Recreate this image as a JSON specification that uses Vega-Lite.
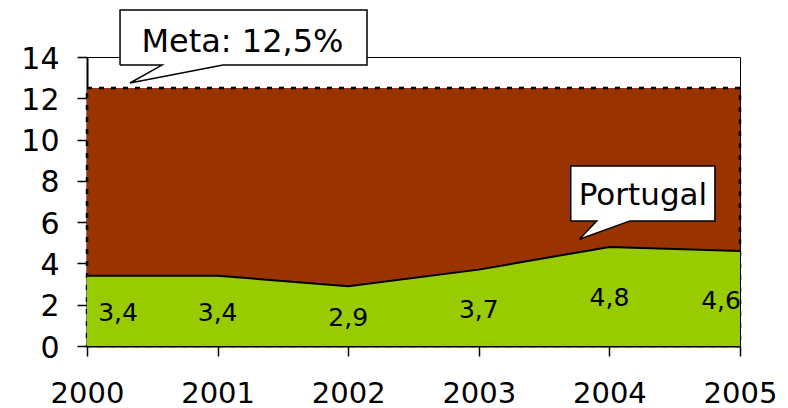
{
  "$schema": "https://vega.github.io/schema/vega-lite/v6.json",
  "width": 653,
  "height": 289,
  "autosize": "none",
  "padding": {"left": 87, "top": 57, "right": 48, "bottom": 62},
  "config": {
    "font": "DejaVu Sans",
    "view": {"stroke": "#000000", "strokeWidth": 1},
    "axis": {"grid": false, "domainColor": "#000000", "domainWidth": 2, "tickColor": "#000000", "tickWidth": 1.5, "tickSize": 10, "labelColor": "#000000", "labelFontSize": 30, "labelFont": "DejaVu Sans", "labelFlush": false, "labelOverlap": false, "labelBound": false, "title": null}
  },
  "datasets": {
    "portugal": [
      {"year": 2000, "v": 3.4, "label": "3,4"},
      {"year": 2001, "v": 3.4, "label": "3,4"},
      {"year": 2002, "v": 2.9, "label": "2,9"},
      {"year": 2003, "v": 3.7, "label": "3,7"},
      {"year": 2004, "v": 4.8, "label": "4,8"},
      {"year": 2005, "v": 4.6, "label": "4,6"}
    ],
    "meta": [{"x1": 2000, "x2": 2005, "lo": 0, "hi": 12.5}],
    "callouts": [
      {"id": "m", "o": 1, "x": 2000.253, "y": 13.61},
      {"id": "m", "o": 2, "x": 2000.574, "y": 13.61},
      {"id": "m", "o": 3, "x": 2000.329, "y": 12.74},
      {"id": "m", "o": 4, "x": 2001.041, "y": 13.61},
      {"id": "m", "o": 5, "x": 2002.144, "y": 13.61},
      {"id": "m", "o": 6, "x": 2002.144, "y": 16.28},
      {"id": "m", "o": 7, "x": 2000.253, "y": 16.28},
      {"id": "m", "o": 8, "x": 2000.253, "y": 13.61},
      {"id": "p", "o": 1, "x": 2003.704, "y": 6.06},
      {"id": "p", "o": 2, "x": 2003.903, "y": 6.06},
      {"id": "p", "o": 3, "x": 2003.770, "y": 5.17},
      {"id": "p", "o": 4, "x": 2004.158, "y": 6.06},
      {"id": "p", "o": 5, "x": 2004.808, "y": 6.06},
      {"id": "p", "o": 6, "x": 2004.808, "y": 8.72},
      {"id": "p", "o": 7, "x": 2003.704, "y": 8.72},
      {"id": "p", "o": 8, "x": 2003.704, "y": 6.06}
    ],
    "callout_text": [
      {"x": 2001.19, "y": 14.26, "text": "Meta: 12,5%", "size": 32},
      {"x": 2004.257, "y": 6.83, "text": "Portugal", "size": 31}
    ]
  },
  "resolve": {"scale": {"y": "independent"}},
  "layer": [
    {
      "layer": [
        {
          "data": {"name": "meta"},
          "mark": {"type": "rect", "fill": "#993300", "stroke": "#000000", "strokeWidth": 2.5, "strokeDash": [5, 7]},
          "encoding": {
            "x": {"field": "x1", "type": "quantitative", "scale": {"domain": [2000, 2005], "nice": false, "zero": false},
                  "axis": {"values": [2000, 2001, 2002, 2003, 2004, 2005], "format": "d", "labelPadding": 23, "labelFontSize": 29, "orient": "bottom"}},
            "x2": {"field": "x2"},
            "y": {"field": "lo", "type": "quantitative", "scale": {"domain": [0, 14], "nice": false},
                  "axis": {"values": [0, 2, 4, 6, 8, 10, 12, 14], "labelPadding": 18, "labelOffset": 2, "orient": "left"}},
            "y2": {"field": "hi"}
          }
        },
        {
          "data": {"name": "portugal"},
          "mark": {"type": "area", "fill": "#99CC00"},
          "encoding": {
            "x": {"field": "year", "type": "quantitative"},
            "y": {"field": "v", "type": "quantitative"}
          }
        },
        {
          "data": {"name": "portugal"},
          "mark": {"type": "line", "color": "#000000", "strokeWidth": 2},
          "encoding": {
            "x": {"field": "year", "type": "quantitative"},
            "y": {"field": "v", "type": "quantitative"}
          }
        },
        {
          "data": {"name": "callouts"},
          "mark": {"type": "line", "stroke": "#000000", "fill": "#ffffff", "strokeWidth": 1.5, "clip": false},
          "encoding": {
            "x": {"field": "x", "type": "quantitative"},
            "y": {"field": "y", "type": "quantitative"},
            "order": {"field": "o", "type": "quantitative"},
            "detail": {"field": "id"}
          }
        },
        {
          "data": {"name": "callout_text"},
          "mark": {"type": "text", "font": "DejaVu Sans", "align": "center", "baseline": "alphabetic", "color": "#000000"},
          "encoding": {
            "x": {"field": "x", "type": "quantitative"},
            "y": {"field": "y", "type": "quantitative"},
            "size": {"field": "size", "type": "quantitative", "scale": null},
            "text": {"field": "text"}
          }
        }
      ]
    },
    {
      "data": {"name": "portugal"},
      "layer": [
        {
          "transform": [{"filter": "datum.year == 2000"}],
          "mark": {"type": "text", "fontSize": 25, "align": "center", "baseline": "middle", "dx": 31, "dy": 2, "color": "#000000"},
          "encoding": {
            "x": {"field": "year", "type": "quantitative"},
            "y": {"field": "v", "type": "quantitative", "scale": {"domain": [0, 28], "nice": false}, "axis": null},
            "text": {"field": "label"}
          }
        },
        {
          "transform": [{"filter": "datum.year > 2000 && datum.year < 2005"}],
          "mark": {"type": "text", "fontSize": 25, "align": "center", "baseline": "middle", "dy": 2, "color": "#000000"},
          "encoding": {
            "x": {"field": "year", "type": "quantitative"},
            "y": {"field": "v", "type": "quantitative"},
            "text": {"field": "label"}
          }
        },
        {
          "transform": [{"filter": "datum.year == 2005"}],
          "mark": {"type": "text", "fontSize": 25, "align": "center", "baseline": "middle", "dx": -19, "dy": 2, "color": "#000000", "clip": true},
          "encoding": {
            "x": {"field": "year", "type": "quantitative"},
            "y": {"field": "v", "type": "quantitative"},
            "text": {"field": "label"}
          }
        }
      ]
    }
  ]
}
